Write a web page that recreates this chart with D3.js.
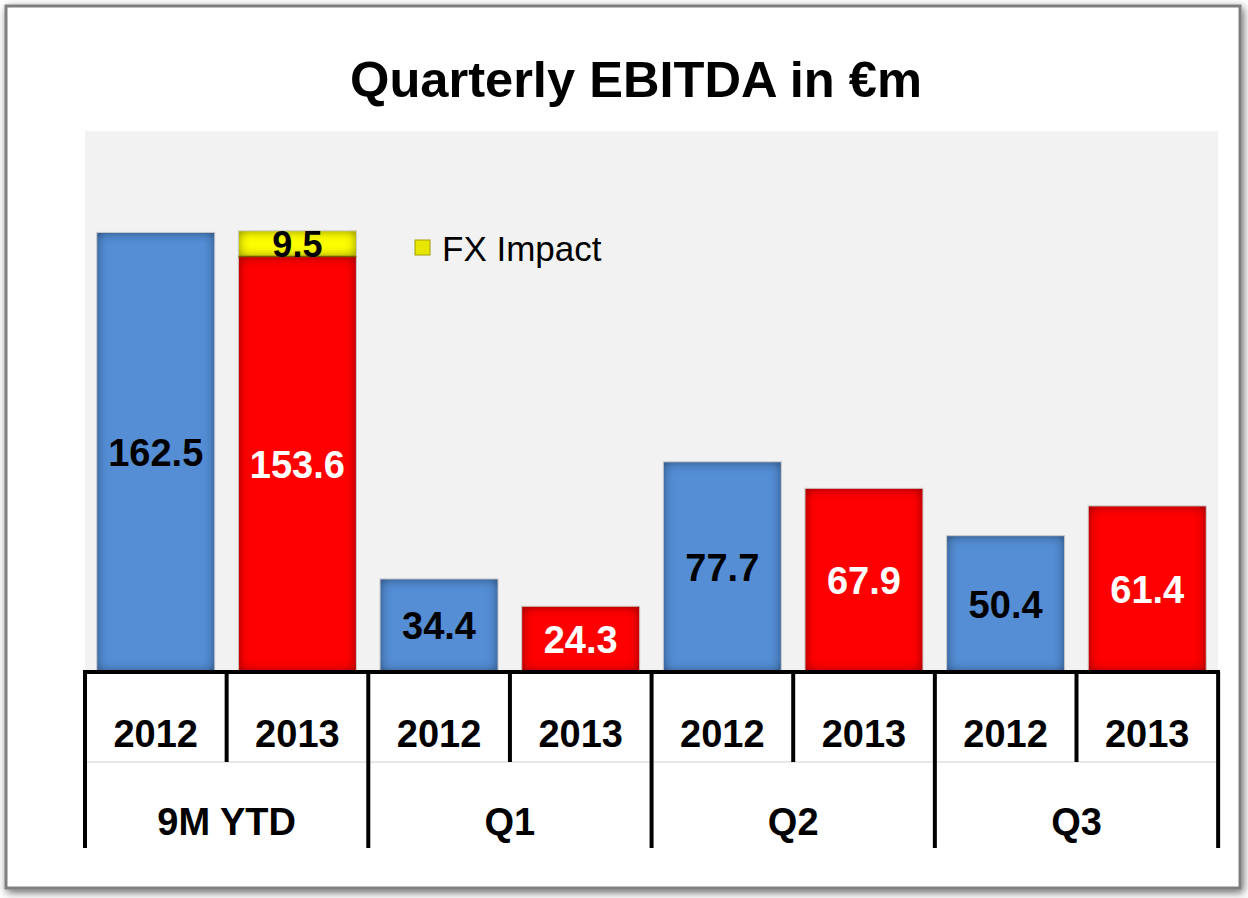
<!DOCTYPE html>
<html>
<head>
    <title>Quarterly EBITDA in €m</title>
    <script src="https://d3js.org/d3.v7.min.js"></script>
    <style>
        body { margin: 0; background: #fff; }
        svg { display: block; font-family: "Liberation Sans", Arial, sans-serif; }
    </style>
</head>
<body>
<svg id="chart" width="1248" height="898"></svg>
<script>
    // Chart data
    var groups = ['9M YTD', 'Q1', 'Q2', 'Q3'];
    var years = ['2012', '2013'];
    var ebitda2012 = [162.5, 34.4, 77.7, 50.4];
    var ebitda2013 = [153.6, 24.3, 67.9, 61.4];
    var fxImpact = [9.5, 0, 0, 0];

    var svg = d3.select('#chart');
    var defs = svg.append('defs');

    // Outer frame with soft shadow
    var frame = defs.append('filter').attr('id', 'frameShadow')
        .attr('x', '-5%').attr('y', '-5%').attr('width', '110%').attr('height', '110%');
    frame.append('feGaussianBlur').attr('in', 'SourceAlpha').attr('stdDeviation', 4).attr('result', 'b');
    frame.append('feOffset').attr('in', 'b').attr('dx', 2).attr('dy', 3).attr('result', 'o');
    frame.append('feComponentTransfer').attr('in', 'o').attr('result', 's')
        .append('feFuncA').attr('type', 'linear').attr('slope', 0.6);
    var fm = frame.append('feMerge');
    fm.append('feMergeNode').attr('in', 's');
    fm.append('feMergeNode').attr('in', 'SourceGraphic');

    // Inner shadow for bars
    var inner = defs.append('filter').attr('id', 'innerShadow');
    inner.append('feGaussianBlur').attr('in', 'SourceAlpha').attr('stdDeviation', 6).attr('result', 'blur');
    inner.append('feComposite').attr('in', 'SourceAlpha').attr('in2', 'blur')
        .attr('operator', 'arithmetic').attr('k2', 1.7).attr('k3', -1.7).attr('result', 'edge');
    inner.append('feFlood').attr('flood-color', '#000').attr('flood-opacity', 0.55).attr('result', 'col');
    inner.append('feComposite').attr('in', 'col').attr('in2', 'edge').attr('operator', 'in').attr('result', 'shadow');
    var im = inner.append('feMerge');
    im.append('feMergeNode').attr('in', 'SourceGraphic');
    im.append('feMergeNode').attr('in', 'shadow');

    svg.append('rect')
        .attr('x', 6).attr('y', 6).attr('width', 1234).attr('height', 882)
        .attr('fill', '#fff').attr('stroke', '#7f7f7f').attr('stroke-width', 3)
        .attr('filter', 'url(#frameShadow)');

    // Title
    svg.append('text')
        .attr('x', 636).attr('y', 97)
        .attr('text-anchor', 'middle')
        .attr('font-size', 50).attr('font-weight', 'bold')
        .attr('textLength', 572).attr('lengthAdjust', 'spacingAndGlyphs')
        .text('Quarterly EBITDA in €m');

    var plotLeft = 85, plotRight = 1218, plotTop = 131, baseY = 672;

    svg.append('rect')
        .attr('x', plotLeft).attr('y', plotTop)
        .attr('width', plotRight - plotLeft).attr('height', baseY - plotTop)
        .attr('fill', '#f2f2f2');

    // Flatten into bar list
    var bars = [];
    groups.forEach(function(g, i) {
        bars.push({group: g, year: years[0], value: ebitda2012[i], fx: 0, key: g + '|' + years[0]});
        bars.push({group: g, year: years[1], value: ebitda2013[i], fx: fxImpact[i], key: g + '|' + years[1]});
    });

    var x = d3.scaleBand()
        .domain(bars.map(function(d) { return d.key; }))
        .range([plotLeft, plotRight])
        .paddingInner(0.167)
        .paddingOuter(0.083);

    var y = d3.scaleLinear().domain([0, 200]).range([baseY, plotTop]);

    var barG = svg.append('g');

    barG.selectAll('rect.main')
        .data(bars)
        .enter().append('rect')
        .attr('class', 'main')
        .attr('x', function(d) { return x(d.key); })
        .attr('y', function(d) { return y(d.value); })
        .attr('width', x.bandwidth())
        .attr('height', function(d) { return baseY - y(d.value); })
        .attr('fill', function(d) { return d.year === '2012' ? '#558ed5' : '#ff0000'; })
        .attr('filter', 'url(#innerShadow)');

    var fxBars = bars.filter(function(d) { return d.fx > 0; });

    barG.selectAll('rect.fx')
        .data(fxBars)
        .enter().append('rect')
        .attr('class', 'fx')
        .attr('x', function(d) { return x(d.key); })
        .attr('y', function(d) { return y(d.value + d.fx); })
        .attr('width', x.bandwidth())
        .attr('height', function(d) { return y(d.value) - y(d.value + d.fx); })
        .attr('fill', '#ffff00')
        .attr('filter', 'url(#innerShadow)');

    barG.selectAll('rect.outline')
        .data(bars)
        .enter().append('rect')
        .attr('x', function(d) { return x(d.key); })
        .attr('y', function(d) { return y(d.value + d.fx); })
        .attr('width', x.bandwidth())
        .attr('height', function(d) { return baseY - y(d.value + d.fx); })
        .attr('fill', 'none')
        .attr('stroke', '#c8c8c8').attr('stroke-width', 1);

    barG.selectAll('line.sep')
        .data(fxBars)
        .enter().append('line')
        .attr('x1', function(d) { return x(d.key); })
        .attr('x2', function(d) { return x(d.key) + x.bandwidth(); })
        .attr('y1', function(d) { return y(d.value); })
        .attr('y2', function(d) { return y(d.value); })
        .attr('stroke', '#7a5c00').attr('stroke-width', 1.5);

    // Value labels
    barG.selectAll('text.val')
        .data(bars)
        .enter().append('text')
        .attr('x', function(d) { return x(d.key) + x.bandwidth() / 2; })
        .attr('y', function(d) { return (y(d.value) + baseY) / 2; })
        .attr('dy', '0.36em')
        .attr('text-anchor', 'middle')
        .attr('font-size', 38).attr('font-weight', 'bold')
        .attr('fill', function(d) { return d.year === '2012' ? '#000' : '#fff'; })
        .text(function(d) { return d.value.toFixed(1); });

    barG.selectAll('text.fxval')
        .data(fxBars)
        .enter().append('text')
        .attr('x', function(d) { return x(d.key) + x.bandwidth() / 2; })
        .attr('y', function(d) { return (y(d.value) + y(d.value + d.fx)) / 2; })
        .attr('dy', '0.36em')
        .attr('text-anchor', 'middle')
        .attr('font-size', 36).attr('font-weight', 'bold')
        .attr('fill', '#000')
        .text(function(d) { return d.fx.toFixed(1); });

    // Legend
    var legend = svg.append('g').attr('transform', 'translate(415,240)');
    legend.append('rect').attr('width', 15).attr('height', 15)
        .attr('fill', '#e6e600').attr('stroke', '#a0a000').attr('stroke-width', 1);
    legend.append('text').attr('x', 27).attr('y', 8).attr('dy', '0.36em')
        .attr('font-size', 35).text('FX Impact');

    // Category table axis
    var axisG = svg.append('g');
    var step = x.step();
    var rowMid = 762, rowBottom = 848;

    axisG.append('line')
        .attr('x1', plotLeft - 2).attr('x2', plotRight + 2)
        .attr('y1', baseY).attr('y2', baseY)
        .attr('stroke', '#000').attr('stroke-width', 4);

    axisG.append('line')
        .attr('x1', plotLeft).attr('x2', plotRight)
        .attr('y1', rowMid).attr('y2', rowMid)
        .attr('stroke', '#d0d0d0').attr('stroke-width', 1);

    // group boundaries
    var groupEdges = d3.range(groups.length + 1).map(function(i) { return plotLeft + i * 2 * step; });
    axisG.selectAll('line.gedge')
        .data(groupEdges)
        .enter().append('line')
        .attr('x1', function(d) { return d; }).attr('x2', function(d) { return d; })
        .attr('y1', baseY).attr('y2', rowBottom)
        .attr('stroke', '#000').attr('stroke-width', 4);

    // year boundaries
    axisG.selectAll('line.yedge')
        .data(groups)
        .enter().append('line')
        .attr('x1', function(d, i) { return plotLeft + (2 * i + 1) * step; })
        .attr('x2', function(d, i) { return plotLeft + (2 * i + 1) * step; })
        .attr('y1', baseY).attr('y2', rowMid)
        .attr('stroke', '#000').attr('stroke-width', 4);

    axisG.selectAll('text.year')
        .data(bars)
        .enter().append('text')
        .attr('x', function(d) { return x(d.key) + x.bandwidth() / 2; })
        .attr('y', 733).attr('dy', '0.36em')
        .attr('text-anchor', 'middle')
        .attr('font-size', 38).attr('font-weight', 'bold')
        .text(function(d) { return d.year; });

    axisG.selectAll('text.group')
        .data(groups)
        .enter().append('text')
        .attr('x', function(d, i) { return plotLeft + (2 * i + 1) * step; })
        .attr('y', 821).attr('dy', '0.36em')
        .attr('text-anchor', 'middle')
        .attr('font-size', 38).attr('font-weight', 'bold')
        .text(function(d) { return d; });
</script>
</body>
</html>
